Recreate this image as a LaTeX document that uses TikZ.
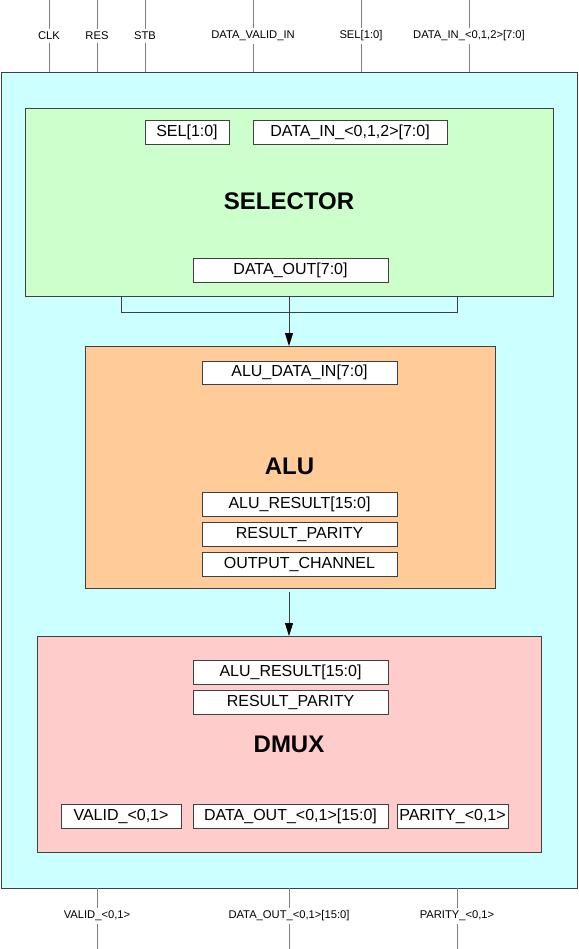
\documentclass[tikz,border=0pt]{standalone}
\usepackage{fontspec}
\setmainfont{Liberation Sans}
\usetikzlibrary{arrows.meta}
\definecolor{cyanbg}{HTML}{CCFFFF}
\definecolor{greenbg}{HTML}{CCFFCC}
\definecolor{orangebg}{HTML}{FFCC99}
\definecolor{pinkbg}{HTML}{FFCCCC}
\definecolor{edge}{HTML}{404040}
\definecolor{pinline}{HTML}{808080}
\begin{document}
\begin{tikzpicture}[x=1pt,y=-1pt,
  block/.style={draw=edge, line width=0.9pt, inner sep=0pt, outer sep=0pt},
  sigbox/.style={draw=edge, fill=white, line width=0.8pt, minimum height=24pt, inner sep=0pt, outer sep=0pt,
    font=\fontsize{16}{18}\selectfont},
  title/.style={font=\fontsize{24}{28}\selectfont\bfseries, inner sep=0pt},
  pinlabel/.style={font=\fontsize{11.2}{13}\selectfont, inner sep=2.5pt},
  pin/.style={draw=pinline, line width=1pt},
  conn/.style={draw=edge, line width=0.9pt},
  arr/.style={draw=edge, line width=0.9pt, -{Triangle[length=13pt,width=8pt,color=black]}}
]
\useasboundingbox (0,0) rectangle (578,949);

% outer box
\node[block, fill=cyanbg, minimum width=576pt, minimum height=816pt] (outer) at (289,480) {};

% selector
\node[block, fill=greenbg, minimum width=528pt, minimum height=188pt] (sel) at (289,202) {};
\node[sigbox, minimum width=84pt] (selin) at (187,132) {SEL[1:0]};
\node[sigbox, minimum width=194pt] (datain) at (350,132) {DATA\_IN\_<0,1,2>[7:0]};
\node[title] (seltitle) at (289,201) {SELECTOR};
\node[sigbox, minimum width=195pt] (dataout) at (290.5,270) {DATA\_OUT[7:0]};

% ALU
\node[block, fill=orangebg, minimum width=410pt, minimum height=242pt] (alu) at (290,467) {};
\node[sigbox, minimum width=195pt, minimum height=23pt] (aluin) at (299.5,372.5) {ALU\_DATA\_IN[7:0]};
\node[title] (alutitle) at (289.5,466) {ALU};
\node[sigbox, minimum width=195pt] (alures) at (299.5,504) {ALU\_RESULT[15:0]};
\node[sigbox, minimum width=195pt] (alupar) at (299.5,534) {RESULT\_PARITY};
\node[sigbox, minimum width=195pt] (aluch) at (299.5,564) {OUTPUT\_CHANNEL};

% DMUX
\node[block, fill=pinkbg, minimum width=504pt, minimum height=216pt] (dmux) at (289,744) {};
\node[sigbox, minimum width=195pt] (dres) at (290.5,672) {ALU\_RESULT[15:0]};
\node[sigbox, minimum width=195pt] (dpar) at (290.5,702) {RESULT\_PARITY};
\node[title] (dmuxtitle) at (289,744) {DMUX};
\node[sigbox, minimum width=120pt] (dvalid) at (121,816) {VALID\_<0,1>};
\node[sigbox, minimum width=195pt] (ddata) at (290.5,816) {DATA\_OUT\_<0,1>[15:0]};
\node[sigbox, minimum width=111pt] (dparity) at (452.5,816) {PARITY\_<0,1>};

% selector -> ALU connector
\coordinate (bl) at (121,312);
\coordinate (br) at (457,312);
\draw[conn] (bl |- sel.south) -- (bl) -- (br) -- (br |- sel.south);
\draw[arr] (sel.south) -- (sel.south |- alu.north);

% ALU -> DMUX
\coordinate (a2) at (289,592);
\draw[arr] (a2) -- (a2 |- dmux.north);

% top pins
\foreach \name/\x/\txt in {{clk/49/CLK}, {res/97/RES}, {stb/145/STB}, {dvin/253/DATA\_VALID\_IN}, {selp/361/SEL[1:0]}, {dinp/469/DATA\_IN\_<0,1,2>[7:0]}}{
  \coordinate (\name T) at (\x,0);
  \node[pinlabel] (\name) at (\x,36) {\txt};
  \draw[pin] (\name T) -- (\name);
  \draw[pin] (\name) -- (\name |- outer.north);
}

% bottom pins
\foreach \name/\x/\txt in {{vout/97/VALID\_<0,1>}, {dout/289/DATA\_OUT\_<0,1>[15:0]}, {pout/457/PARITY\_<0,1>}}{
  \coordinate (\name B) at (\x,949);
  \node[pinlabel] (\name) at (\x,916) {\txt};
  \draw[pin] (\name |- outer.south) -- (\name);
  \draw[pin] (\name) -- (\name B);
}
\end{tikzpicture}
\end{document}
